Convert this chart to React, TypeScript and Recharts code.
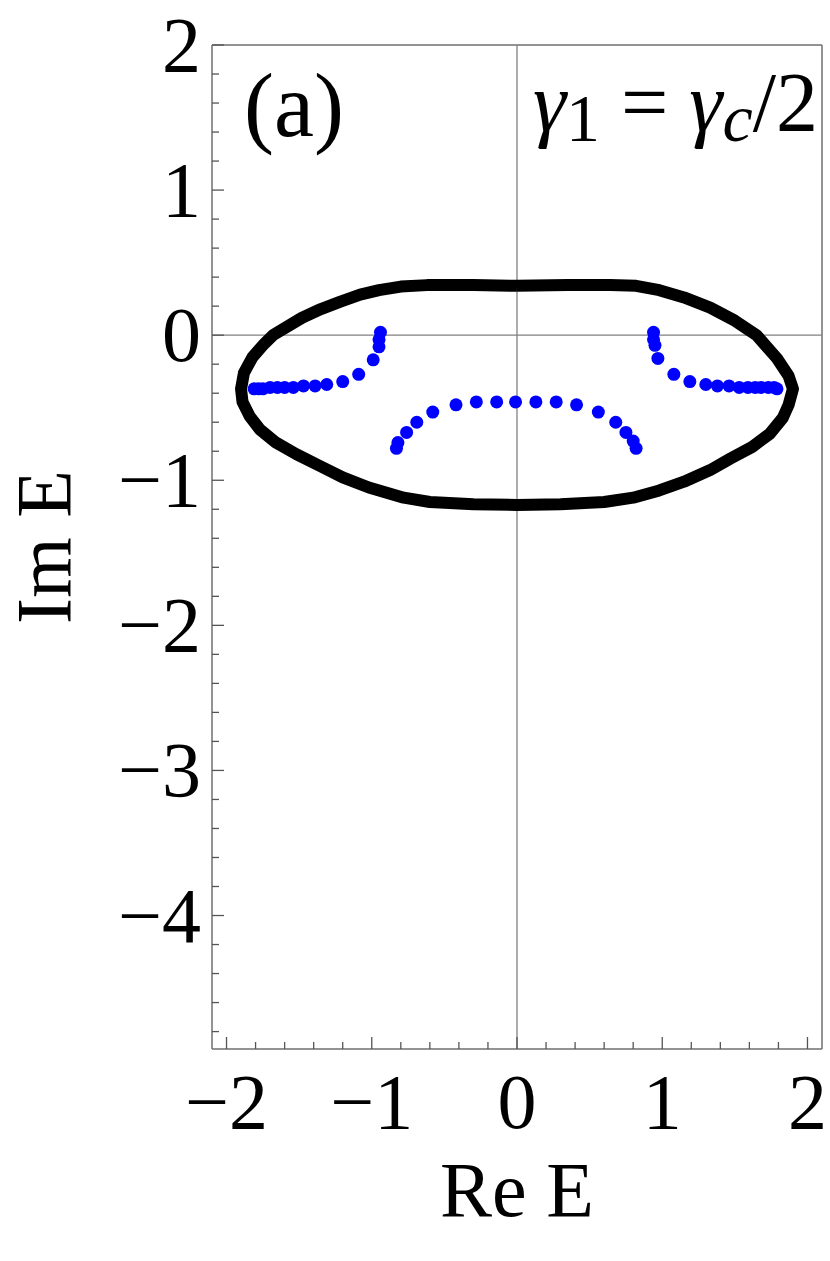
import { ScatterChart, Scatter, XAxis, YAxis, ReferenceLine } from 'recharts';

// closed eigenvalue loop (Re E, Im E), traced clockwise from the top
const loopPoints: [number, number][] = [
  [0, 0.34], [0.35, 0.345], [0.64, 0.345], [0.82, 0.34], [0.98, 0.31], [1.15, 0.26],
  [1.33, 0.19], [1.5, 0.1], [1.65, 0.0], [1.79, -0.16], [1.87, -0.28], [1.9, -0.37],
  [1.87, -0.48], [1.83, -0.57], [1.74, -0.68], [1.62, -0.77], [1.47, -0.85], [1.33, -0.93],
  [1.15, -1.01], [0.98, -1.07], [0.8, -1.12], [0.6, -1.15], [0.3, -1.165], [0, -1.17],
  [-0.3, -1.165], [-0.6, -1.15], [-0.78, -1.12], [-1.02, -1.05], [-1.2, -0.98], [-1.36, -0.9],
  [-1.52, -0.82], [-1.66, -0.74], [-1.77, -0.65], [-1.84, -0.56], [-1.89, -0.46], [-1.9, -0.37],
  [-1.88, -0.26], [-1.82, -0.15], [-1.75, -0.07], [-1.68, 0.0], [-1.48, 0.12], [-1.35, 0.18],
  [-1.22, 0.23], [-1.08, 0.28], [-0.95, 0.31], [-0.8, 0.335], [-0.62, 0.345], [-0.3, 0.345],
  [0, 0.34],
];

// discrete spectrum, left branch
const leftBranch: [number, number][] = [
  [-0.94, 0.02], [-0.95, -0.03], [-0.95, -0.08], [-0.99, -0.17], [-1.09, -0.27], [-1.2, -0.32],
  [-1.31, -0.34], [-1.39, -0.35], [-1.47, -0.35], [-1.54, -0.36], [-1.6, -0.36], [-1.65, -0.36],
  [-1.7, -0.36], [-1.75, -0.37], [-1.78, -0.37], [-1.81, -0.37],
];

// discrete spectrum, right branch
const rightBranch: [number, number][] = [
  [0.94, 0.02], [0.94, -0.03], [0.95, -0.07], [0.97, -0.16], [1.08, -0.27], [1.19, -0.32],
  [1.3, -0.34], [1.38, -0.35], [1.46, -0.35], [1.53, -0.36], [1.59, -0.36], [1.64, -0.36],
  [1.68, -0.36], [1.73, -0.36], [1.77, -0.36], [1.79, -0.37],
];

// discrete spectrum, middle arc
const middleArc: [number, number][] = [
  [-0.83, -0.78], [-0.82, -0.74], [-0.76, -0.67], [-0.69, -0.6], [-0.58, -0.53], [-0.42, -0.48],
  [-0.28, -0.46], [-0.14, -0.46], [-0.01, -0.46], [0.13, -0.46], [0.27, -0.46], [0.41, -0.48],
  [0.56, -0.53], [0.68, -0.6], [0.75, -0.67], [0.8, -0.73], [0.82, -0.78],
];

const xMajor = [-2, -1, 0, 1, 2];
const xTicks = [-2, -1.8, -1.6, -1.4, -1.2, -1, -0.8, -0.6, -0.4, -0.2, 0, 0.2, 0.4, 0.6, 0.8, 1, 1.2, 1.4, 1.6, 1.8, 2];
const yMajor = [-4, -3, -2, -1, 0, 1, 2];
const yTicks = [
  -4.8, -4.6, -4.4, -4.2, -4, -3.8, -3.6, -3.4, -3.2, -3, -2.8, -2.6, -2.4, -2.2, -2, -1.8, -1.6, -1.4,
  -1.2, -1, -0.8, -0.6, -0.4, -0.2, 0, 0.2, 0.4, 0.6, 0.8, 1, 1.2, 1.4, 1.6, 1.8, 2,
];

const toXY = (pts: [number, number][]) => pts.map(([x, y]) => ({ x, y }));

const FONT = '"Liberation Serif", "Times New Roman", serif';
const FRAME = '#6f6f6f';
const PLOT_LEFT = 212;
const PLOT_BOTTOM = 1049;

const label = (v: number) => (v < 0 ? '\u2212' + Math.abs(v) : String(v));
const isMajor = (v: number, majors: number[]) => majors.some(m => Math.abs(m - v) < 1e-6);

function XTick(props: any) {
  const { x, payload } = props;
  const major = isMajor(payload.value, xMajor);
  return (
    <g>
      <line x1={x} x2={x} y1={PLOT_BOTTOM} y2={PLOT_BOTTOM - (major ? 12 : 7)} stroke="#555" strokeWidth={1.3} />
      {major && (
        <text x={x} y={1128} textAnchor="middle" fontSize={78} fontFamily={FONT} fill="#000">
          {label(Math.round(payload.value))}
        </text>
      )}
    </g>
  );
}

function YTick(props: any) {
  const { y, payload } = props;
  const major = isMajor(payload.value, yMajor);
  return (
    <g>
      <line x1={PLOT_LEFT} x2={PLOT_LEFT + (major ? 12 : 7)} y1={y} y2={y} stroke="#555" strokeWidth={1.3} />
      {major && (
        <text x={201} y={y + 26} textAnchor="end" fontSize={78} fontFamily={FONT} fill="#000">
          {label(Math.round(payload.value))}
        </text>
      )}
    </g>
  );
}

const Dot = (props: any) => <circle cx={props.cx} cy={props.cy} r={6.5} fill="#0000ff" />;

export default function App() {
  return (
    <div style={{ position: 'absolute', left: 0, top: 0, width: 830, height: 1261, background: '#fff' }}>
      <ScatterChart width={830} height={1261} margin={{ top: 45, right: 8, bottom: 0, left: 0 }}>
        <XAxis
          type="number"
          dataKey="x"
          domain={[-2.1, 2.1]}
          ticks={xTicks}
          interval={0}
          height={212}
          tickLine={false}
          axisLine={{ stroke: FRAME, strokeWidth: 1.5 }}
          tick={<XTick />}
          allowDataOverflow
        />
        <YAxis
          type="number"
          dataKey="y"
          domain={[-4.92, 2]}
          ticks={yTicks}
          interval={0}
          width={212}
          tickLine={false}
          axisLine={{ stroke: FRAME, strokeWidth: 1.5 }}
          tick={<YTick />}
          allowDataOverflow
        />
        <ReferenceLine y={2} stroke={FRAME} strokeWidth={1.5} />
        <ReferenceLine x={2.1} stroke={FRAME} strokeWidth={1.5} />
        <ReferenceLine y={0} stroke="#808080" strokeWidth={1.3} />
        <ReferenceLine x={0} stroke="#808080" strokeWidth={1.3} />
        <Scatter
          data={toXY(loopPoints)}
          line={{ stroke: '#000', strokeWidth: 12, strokeLinejoin: 'round' }}
          shape={() => <g />}
          isAnimationActive={false}
        />
        <Scatter data={toXY(leftBranch)} shape={Dot} isAnimationActive={false} />
        <Scatter data={toXY(rightBranch)} shape={Dot} isAnimationActive={false} />
        <Scatter data={toXY(middleArc)} shape={Dot} isAnimationActive={false} />
      </ScatterChart>
      <svg width={830} height={1261} style={{ position: 'absolute', left: 0, top: 0, pointerEvents: 'none' }}>
        <text x={244} y={136} fontSize={90} fontFamily={FONT} fill="#000">(a)</text>
        <text x={818} y={131} textAnchor="end" fontSize={84} fontFamily={FONT} fill="#000">
          <tspan fontStyle="italic">γ</tspan>
          <tspan fontSize={68} dy={10}>1</tspan>
          <tspan dy={-10}>{' = '}</tspan>
          <tspan fontStyle="italic">γ</tspan>
          <tspan fontStyle="italic" fontSize={68} dy={10}>c</tspan>
          <tspan dy={-10}>/2</tspan>
        </text>
        <text x={517} y={1216} textAnchor="middle" fontSize={78} fontFamily={FONT} fill="#000">Re E</text>
        <text
          x={70}
          y={547}
          textAnchor="middle"
          fontSize={78}
          fontFamily={FONT}
          fill="#000"
          transform="rotate(-90 70 547)"
        >
          Im E
        </text>
      </svg>
    </div>
  );
}
